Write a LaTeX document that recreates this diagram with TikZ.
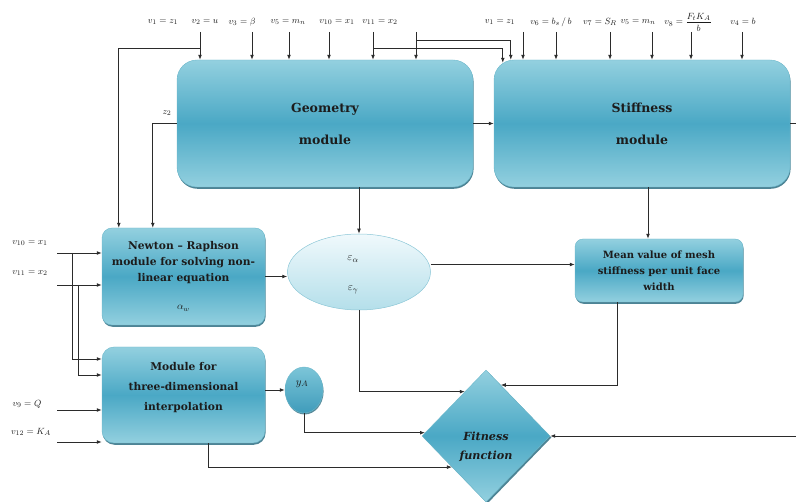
\documentclass[tikz,border=0pt]{standalone}
\usepackage{fontspec}
\newfontfamily\boxfont{DejaVu Serif}
\usetikzlibrary{shapes.geometric,shadows,arrows.meta,calc}
\definecolor{boxlight}{HTML}{93D0DF}
\definecolor{boxdark}{HTML}{4AA8C5}
\definecolor{boxedge}{HTML}{6DB8CB}
\definecolor{shadowc}{HTML}{2E6E82}
\definecolor{ellight}{HTML}{F0F9FC}
\definecolor{eldark}{HTML}{B4DFEA}
\definecolor{eledge}{HTML}{8CC7D7}
\definecolor{yalight}{HTML}{7CC5D8}
\definecolor{yadark}{HTML}{3F9CBB}
\definecolor{wire}{HTML}{2B2B2B}
\definecolor{ink}{HTML}{1C1C1C}
\begin{document}
\begin{tikzpicture}[x=1pt,y=-1pt,
  mod/.style={rectangle, draw=boxedge, line width=0.4pt,
    top color=boxlight, bottom color=boxlight, middle color=boxdark,
    drop shadow={shadow xshift=0.6pt, shadow yshift=-1.8pt, fill=shadowc, opacity=0.85},
    inner sep=0pt, font=\boxfont\bfseries\fontsize{10.7}{16}\selectfont, text=ink, align=center},
  bigmod/.style={mod, font=\boxfont\bfseries\fontsize{12.5}{16}\selectfont},
  boxtext/.style={inner sep=0pt, font=\boxfont\bfseries\fontsize{10.7}{20}\selectfont, text=ink, align=center},
  wirestyle/.style={draw=wire, line width=0.75pt},
  arr/.style={wirestyle, -{Latex[length=5pt,width=3.8pt]}},
  varlbl/.style={inner sep=0pt, font=\fontsize{9.5}{11}\selectfont, text=ink},
  greek/.style={inner sep=0pt, font=\fontsize{11}{12}\selectfont, text=ink},
]
\useasboundingbox (0,0) rectangle (796,502);

% ---------- modules ----------
\node[bigmod, minimum width=296pt, minimum height=127pt, rounded corners=20pt] (geo) at (325,123.5) {Geometry\\[16pt]module};
\node[bigmod, minimum width=296pt, minimum height=127pt, rounded corners=20pt] (stiff) at (642,123.5) {Stiffness\\[16pt]module};
\node[mod, minimum width=163pt, minimum height=97pt, rounded corners=10pt] (nr) at (183.5,276.5)
  {Newton – Raphson\\module for solving non-\\linear equation\\[12pt]{\fontsize{10}{10}\selectfont$\alpha_w$}};
\node[mod, minimum width=163pt, minimum height=96pt, rounded corners=12pt] (interp) at (183.5,395) {};
\node[boxtext] (interpT) at (183.5,388) {Module for\\three-dimensional\\interpolation};
\node[mod, font=\boxfont\bfseries\fontsize{10}{16}\selectfont, minimum width=168pt, minimum height=63pt, rounded corners=8pt] (mean) at (659,270.5)
  {Mean value of mesh\\stiffness per unit face\\width};

% ---------- error ellipse ----------
\node[ellipse, draw=eledge, line width=0.5pt, top color=ellight, bottom color=eldark,
  minimum width=143pt, minimum height=76pt, inner sep=0pt] (eps) at (359,272) {};
\node[greek] (epsA) at (353,259) {$\varepsilon_\alpha$};
\node[greek] (epsG) at (353,290) {$\varepsilon_\gamma$};

% ---------- y_A ----------
\node[ellipse, draw=boxedge, line width=0.4pt, top color=yalight, bottom color=yadark,
  drop shadow={shadow xshift=0.6pt, shadow yshift=-1.5pt, fill=shadowc, opacity=0.8},
  minimum width=38pt, minimum height=46pt, inner sep=0pt] (ya) at (304,390) {};
\node[greek] (yaT) at (302,384) {$y_A$};

% ---------- fitness function ----------
\node[diamond, draw=boxedge, line width=0.4pt, top color=boxlight, bottom color=boxlight, middle color=boxdark,
  drop shadow={shadow xshift=1.5pt, shadow yshift=-1.5pt, fill=shadowc, opacity=0.85},
  minimum width=128pt, minimum height=132pt, inner sep=0pt] (fit) at (486,436) {};
\node[inner sep=0pt, font=\boxfont\bfseries\itshape\fontsize{11.2}{19}\selectfont, text=ink, align=center] (fitT) at (486,447) {Fitness\\function};

% ---------- input labels, top ----------
\node[varlbl] (g1) at (163,22) {$v_1=z_1$};
\node[varlbl] (g2) at (205,22) {$v_2=u$};
\node[varlbl] (g3) at (242,22) {$v_3=\beta$};
\node[varlbl] (g5) at (288,22) {$v_5=m_n$};
\node[varlbl] (g10) at (337,22) {$v_{10}=x_1$};
\node[varlbl] (g11) at (380,22) {$v_{11}=x_2$};
\node[varlbl] (s1) at (500,22) {$v_1=z_1$};
\node[varlbl] (s6) at (551,22) {$v_6=b_s\,/\,b$};
\node[varlbl] (s7) at (600,22) {$v_7=S_R$};
\node[varlbl] (s5) at (638,22) {$v_5=m_n$};
\node[varlbl] (s8) at (688,22) {$v_8=\displaystyle\frac{F_tK_A}{b}$};
\node[varlbl] (s4) at (743,22) {$v_4=b$};
\node[varlbl] (z2) at (167,113) {$z_2$};

% ---------- input labels, left ----------
\node[varlbl] (l10) at (30,243) {$v_{10}=x_1$};
\node[varlbl] (l11) at (30,273) {$v_{11}=x_2$};
\node[varlbl] (l9) at (27,404) {$v_9=Q$};
\node[varlbl] (l12) at (31,432) {$v_{12}=K_A$};

% ---------- geometry inputs ----------
\foreach \x/\n in {200/ga, 252/gb, 289/gc, 329/gd, 373/ge, 416/gf} {
  \coordinate (\n) at (\x,32);
  \draw[arr] (\n) -- (\n |- geo.north);
}
\coordinate (jA) at (200,48);
\draw[arr] (jA) -| ($(nr.north west)+(17,0)$);
\draw[arr] (geo.west) -| ($(nr.north west)+(51,0)$);

% ---------- stiffness inputs ----------
\foreach \x/\n in {523/sa, 556/sb, 610/sc, 652/sd, 691/se, 742/sf} {
  \coordinate (\n) at (\x,32);
  \draw[arr] (\n) -- (\n |- stiff.north);
}
\coordinate (jB) at (373,48);
\coordinate (jC) at (416,40);
\draw[arr] (jB) -| ($(stiff.north west)+(9,3)$);
\draw[arr] (jC) -| ($(stiff.north west)+(17,0)$);

% ---------- module links ----------
\draw[arr] (geo.east) -- (stiff.west);
\coordinate (rout) at (796,123.5);
\draw[wirestyle] (stiff.east) -- (rout);
\draw[arr] (geo.south -| eps.north) -- (eps.north);
\coordinate (mIn) at ($(mean.north)+(-11,0)$);
\draw[arr] (stiff.south -| mIn) -- (mIn);
\draw[arr] (nr.east) -- (nr.east -| eps.west);
\coordinate (mW) at ($(mean.west)+(0,-6)$);
\draw[arr] (eps.east |- mW) -- (mW);

% ---------- left inputs ----------
\coordinate (i10) at (57,253);
\coordinate (i11) at (57,285);
\coordinate (i9) at (57,410);
\coordinate (i12) at (57,442);
\draw[arr] (i10) -- (i10 -| nr.west);
\draw[arr] (i11) -- (i11 -| nr.west);
\coordinate (k1) at (72,359);
\coordinate (k2) at (78,375);
\draw[arr] (i10 -| k1) -- (k1) -- (k1 -| interp.west);
\draw[arr] (i11 -| k2) -- (k2) -- (k2 -| interp.west);
\draw[arr] (i9) -- (i9 -| interp.west);
\draw[arr] (i12) -- (i12 -| interp.west);

% ---------- into the fitness function ----------
\draw[arr] (interp.east |- ya.west) -- (ya.west);
\coordinate (f1) at ($(fit.north)!0.95!(fit.west)$);
\draw[arr] (ya.south) |- (f1);
\coordinate (f2) at ($(fit.north)!0.33!(fit.west)$);
\draw[arr] (eps.south) |- (f2);
\coordinate (f3) at ($(fit.north)!0.23!(fit.east)$);
\coordinate (mS) at ($(mean.south)+(-42,0)$);
\draw[arr] (mS) |- (f3);
\coordinate (f4) at ($(fit.west)!0.47!(fit.south)$);
\coordinate (iS) at ($(interp.south)+(24.5,0)$);
\draw[arr] (iS) |- (f4);
\coordinate (rin) at (796,436);
\draw[arr] (rin) -- (fit.east);
\end{tikzpicture}
\end{document}
